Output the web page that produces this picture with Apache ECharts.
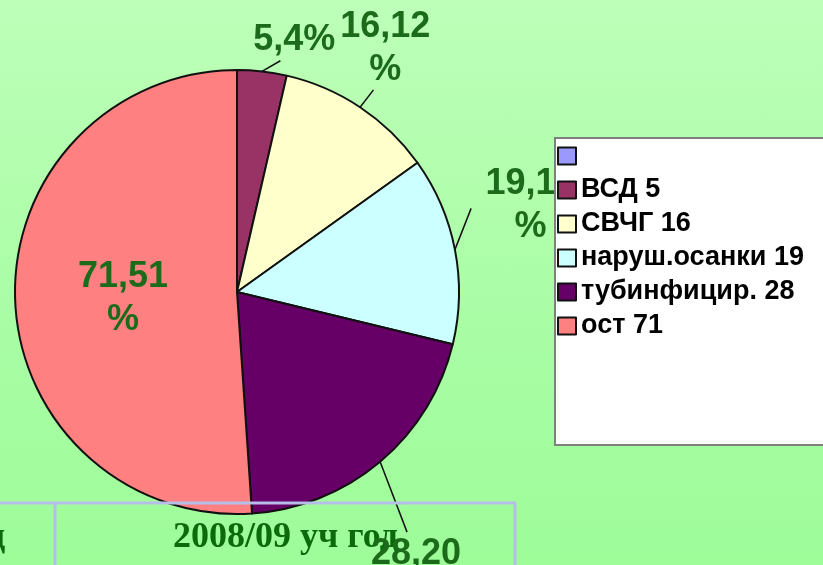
<!DOCTYPE html>
<html>
<head>
<meta charset="utf-8">
<script src="https://cdn.jsdelivr.net/npm/echarts@6/dist/echarts.min.js"></script>
<style>
  html, body { margin: 0; padding: 0; }
  #chart {
    width: 823px; height: 565px;
    background: linear-gradient(to bottom, #bdffb9 0%, #a8fda4 60%, #9efc99 100%);
  }
</style>
</head>
<body>
<div id="chart"></div>
<script>
  // данные диаграммы
  const categories = [' ', 'ВСД 5', 'СВЧГ 16', 'наруш.осанки 19', 'тубинфицир. 28', 'ост 71'];
  const values = [0, 5, 16, 19, 28, 71];
  const labelTexts = ['', '5,4%', '16,12\n%', '19,14\n%', '28,20\n%', '71,51\n%'];
  const sliceColors = ['#9999ff', '#993366', '#ffffcc', '#ccffff', '#660066', '#ff8080'];

  // сдвиг подписей от штатного положения и точка, куда идёт выноска (доли блока подписи)
  const labelShift = [[0, 0], [-16, -11], [-36, -42], [6, -40], [-27, 99], [0, 3]];
  const lineAnchor = [null, [0.33, 0.97], [0.37, 0.98], [-0.16, 0.53], [0.4, -0.01], null];

  const chart = echarts.init(document.getElementById('chart'), null, { renderer: 'canvas' });

  const seriesData = values.map(function (v, i) {
    const item = {
      name: categories[i],
      value: v,
      itemStyle: { color: sliceColors[i] }
    };
    if (i === 0) {
      item.label = { show: false };
      item.labelLine = { show: false };
    }
    if (i === 5) {
      item.label = { position: 'inside' };
    }
    return item;
  });

  chart.setOption({
    animation: false,
    legend: {
      orient: 'vertical',
      left: 555,
      top: 138,
      padding: [4, 60, 105, 2],
      backgroundColor: '#ffffff',
      borderColor: '#7f7f7f',
      borderWidth: 2,
      icon: 'rect',
      itemWidth: 18,
      itemHeight: 17,
      itemGap: 6,
      selectedMode: false,
      itemStyle: { borderColor: '#111', borderWidth: 2 },
      textStyle: {
        fontFamily: 'Liberation Sans',
        fontWeight: 'bold',
        fontSize: 27,
        lineHeight: 28,
        color: '#000'
      },
      data: categories
    },
    series: [
      {
        type: 'pie',
        center: [237, 292],
        radius: 222,
        startAngle: 90,
        clockwise: true,
        avoidLabelOverlap: false,
        stillShowZeroSum: true,
        itemStyle: { borderColor: '#111', borderWidth: 2 },
        label: {
          show: true,
          position: 'outside',
          alignTo: 'none',
          formatter: function (p) { return labelTexts[p.dataIndex]; },
          fontFamily: 'Liberation Sans',
          fontWeight: 'bold',
          fontSize: 36,
          lineHeight: 43,
          color: '#1b6b1b'
        },
        labelLine: {
          show: true,
          length: 20,
          length2: 0,
          lineStyle: { color: '#111', width: 1.5 }
        },
        labelLayout: function (params) {
          const i = params.dataIndex;
          const s = labelShift[i];
          if (i === 0) return {};
          if (i === 5) return { dx: s[0], dy: s[1] };
          if (!params.labelLinePoints) return {};
          const r = params.labelRect;
          const cx = r.x + r.width / 2 + s[0];
          const cy = r.y + r.height / 2 + s[1];
          const a = lineAnchor[i];
          const p0 = params.labelLinePoints[0];
          const end = [cx - r.width / 2 + a[0] * r.width, cy - r.height / 2 + a[1] * r.height];
          return {
            x: cx,
            y: cy,
            align: 'center',
            verticalAlign: 'middle',
            labelLinePoints: [p0, end]
          };
        },
        data: seriesData
      }
    ],
    graphic: [
      {
        type: 'text', z: 1, left: 173, top: 520,
        style: { text: '2008/09 уч год', font: 'bold 36px "Liberation Serif"', fill: '#0b6a0b' }
      },
      {
        type: 'text', z: 1, left: -13, top: 520,
        style: { text: 'д', font: 'bold 36px "Liberation Serif"', fill: '#0b6a0b' }
      },
      { type: 'line', z: 10, shape: { x1: 0, y1: 503, x2: 516, y2: 503 }, style: { stroke: '#b6bde9', lineWidth: 3 } },
      { type: 'line', z: 10, shape: { x1: 55, y1: 503, x2: 55, y2: 565 }, style: { stroke: '#b6bde9', lineWidth: 3 } },
      { type: 'line', z: 10, shape: { x1: 515, y1: 503, x2: 515, y2: 565 }, style: { stroke: '#b6bde9', lineWidth: 3 } }
    ]
  });
</script>
</body>
</html>
